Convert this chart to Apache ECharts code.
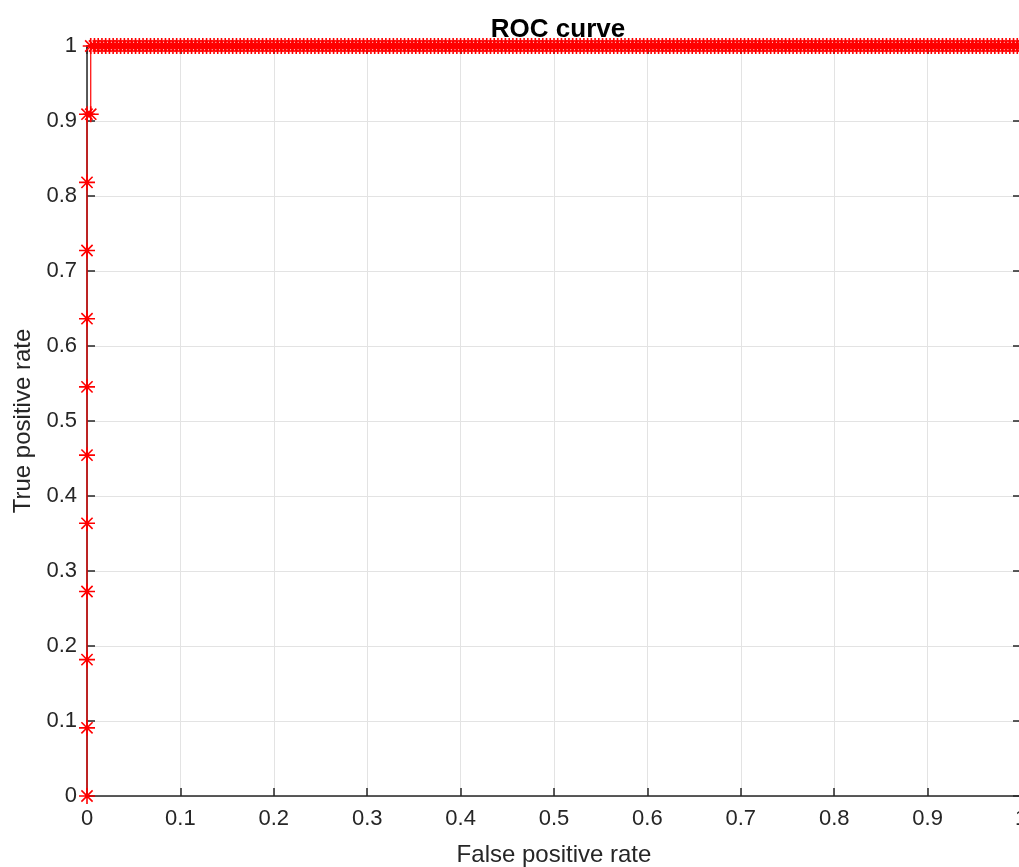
<!DOCTYPE html>
<html>
<head>
<meta charset="utf-8">
<script src="https://cdn.jsdelivr.net/npm/echarts@6/dist/echarts.min.js"></script>
<style>html,body{margin:0;padding:0;background:#fff;}#c{width:1019px;height:867px;}</style>
</head>
<body>
<div id="c"></div>
<script>
// Rising part of the ROC curve (x = false positive rate, y = true positive rate)
const fprRise = [0, 0, 0, 0, 0, 0, 0, 0, 0, 0, 0, 0.004];
const tprRise = [0, 0.0909, 0.1818, 0.2727, 0.3636, 0.4545, 0.5455, 0.6364, 0.7273, 0.8182, 0.9091, 0.9091];
// Points on the top plateau (true positive rate = 1)
const fprTop = [
  0.004,0.008,0.012,0.016,0.02,0.024,0.028,0.032,0.036,0.04,0.044,0.048,0.052,0.056,0.06,0.064,0.068,0.072,0.076,0.08,0.084,0.088,0.092,0.096,0.1,
  0.104,0.108,0.112,0.116,0.12,0.124,0.128,0.132,0.136,0.14,0.144,0.148,0.152,0.156,0.16,0.164,0.168,0.172,0.176,0.18,0.184,0.188,0.192,0.196,0.2,
  0.204,0.208,0.212,0.216,0.22,0.224,0.228,0.232,0.236,0.24,0.244,0.248,0.252,0.256,0.26,0.264,0.268,0.272,0.276,0.28,0.284,0.288,0.292,0.296,0.3,
  0.304,0.308,0.312,0.316,0.32,0.324,0.328,0.332,0.336,0.34,0.344,0.348,0.352,0.356,0.36,0.364,0.368,0.372,0.376,0.38,0.384,0.388,0.392,0.396,0.4,
  0.404,0.408,0.412,0.416,0.42,0.424,0.428,0.432,0.436,0.44,0.444,0.448,0.452,0.456,0.46,0.464,0.468,0.472,0.476,0.48,0.484,0.488,0.492,0.496,0.5,
  0.504,0.508,0.512,0.516,0.52,0.524,0.528,0.532,0.536,0.54,0.544,0.548,0.552,0.556,0.56,0.564,0.568,0.572,0.576,0.58,0.584,0.588,0.592,0.596,0.6,
  0.604,0.608,0.612,0.616,0.62,0.624,0.628,0.632,0.636,0.64,0.644,0.648,0.652,0.656,0.66,0.664,0.668,0.672,0.676,0.68,0.684,0.688,0.692,0.696,0.7,
  0.704,0.708,0.712,0.716,0.72,0.724,0.728,0.732,0.736,0.74,0.744,0.748,0.752,0.756,0.76,0.764,0.768,0.772,0.776,0.78,0.784,0.788,0.792,0.796,0.8,
  0.804,0.808,0.812,0.816,0.82,0.824,0.828,0.832,0.836,0.84,0.844,0.848,0.852,0.856,0.86,0.864,0.868,0.872,0.876,0.88,0.884,0.888,0.892,0.896,0.9,
  0.904,0.908,0.912,0.916,0.92,0.924,0.928,0.932,0.936,0.94,0.944,0.948,0.952,0.956,0.96,0.964,0.968,0.972,0.976,0.98,0.984,0.988,0.992,0.996,1
];
const tprTop = 1;
const titleText = 'ROC curve';
const xName = 'False positive rate';
const yName = 'True positive rate';

const data = [];
for (let i = 0; i < fprRise.length; i++) data.push([fprRise[i], tprRise[i]]);
for (let i = 0; i < fprTop.length; i++) data.push([fprTop[i], tprTop]);

const axisColor = '#262626';
const font = 'Liberation Sans, Arial, Helvetica, sans-serif';
const star = 'path://M0,-10L0,10M-10,0L10,0M-7,-7L7,7M-7,7L7,-7';

const chart = echarts.init(document.getElementById('c'), null, {renderer: 'canvas'});
const commonX = {
  type: 'value', min: 0, max: 1, interval: 0.1,
  axisLine: {show: true, onZero: false, lineStyle: {color: axisColor, width: 1.5}},
  axisTick: {show: true, inside: true, length: 8, lineStyle: {color: axisColor, width: 1.5}},
};
chart.setOption({
  animation: false,
  backgroundColor: '#fff',
  title: {
    text: titleText, left: 553, top: 12, textAlign: 'center',
    textStyle: {fontFamily: font, fontSize: 26, fontWeight: 'bold', color: '#000'}
  },
  grid: {left: 87, top: 46, width: 934, height: 750, outerBoundsMode: 'none', containLabel: false},
  xAxis: [
    Object.assign({}, commonX, {
      position: 'bottom',
      name: xName, nameLocation: 'middle', nameGap: 47,
      nameTextStyle: {fontFamily: font, fontSize: 24, color: axisColor},
      axisLabel: {fontFamily: font, fontSize: 22, color: axisColor, margin: 12},
      splitLine: {show: true, lineStyle: {color: '#e3e3e3', width: 1}}
    }),
    Object.assign({}, commonX, {
      position: 'top',
      axisLabel: {show: false},
      splitLine: {show: false}
    })
  ],
  yAxis: [
    Object.assign({}, commonX, {
      position: 'left',
      name: yName, nameLocation: 'middle', nameGap: 52,
      nameTextStyle: {fontFamily: font, fontSize: 24, color: axisColor},
      axisLabel: {fontFamily: font, fontSize: 22, color: axisColor, margin: 10},
      splitLine: {show: true, lineStyle: {color: '#e3e3e3', width: 1}}
    }),
    Object.assign({}, commonX, {
      position: 'right',
      axisLabel: {show: false},
      splitLine: {show: false}
    })
  ],
  series: [{
    type: 'line',
    data: data,
    xAxisIndex: 0, yAxisIndex: 0,
    showSymbol: true, showAllSymbol: true,
    symbol: star, symbolSize: 16,
    lineStyle: {color: '#ff0000', width: 1.2},
    itemStyle: {color: 'none', borderColor: '#ff0000', borderWidth: 1.6},
    z: 3
  }]
});
</script>
</body>
</html>
